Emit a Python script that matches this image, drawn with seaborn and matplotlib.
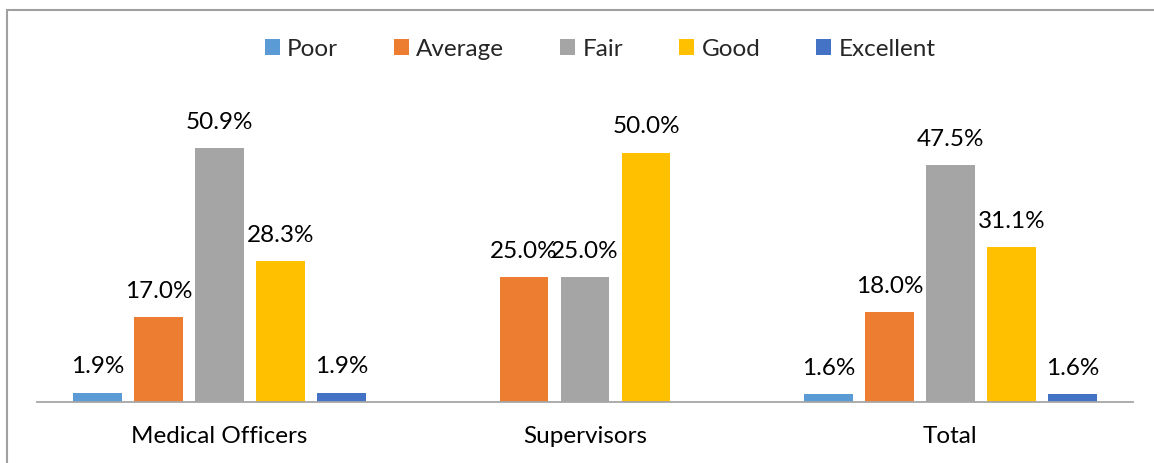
import numpy as np
import pandas as pd
import matplotlib.pyplot as plt
import seaborn as sns
from matplotlib.lines import Line2D

# Data (percent)
groups = ['Medical Officers', 'Supervisors', 'Total']
ratings = ['Poor', 'Average', 'Fair', 'Good', 'Excellent']
poor = [1.9, 0.0, 1.6]
average = [17.0, 25.0, 18.0]
fair = [50.9, 25.0, 47.5]
good = [28.3, 50.0, 31.1]
excellent = [1.9, 0.0, 1.6]
colors = ['#5B9BD5', '#ED7D31', '#A5A5A5', '#FFC000', '#4472C4']

df = pd.DataFrame({'Group': groups, 'Poor': poor, 'Average': average,
                   'Fair': fair, 'Good': good, 'Excellent': excellent})
long = df.melt(id_vars='Group', var_name='Rating', value_name='Pct')

sns.set_style("white")
plt.rcParams['font.family'] = ['Lato', 'DejaVu Sans']
fs = 17.5
plt.rcParams['font.size'] = fs

W, H = 1154, 463
fig = plt.figure(figsize=(W / 100, H / 100), dpi=100)
ax = fig.add_axes([37 / W, 61 / H, (1133 - 37) / W, (402 - 102.6) / H])

sns.barplot(data=long, x='Group', y='Pct', hue='Rating', hue_order=ratings,
            palette=colors, width=0.835, gap=0.2, ax=ax, legend=True,
            saturation=1, linewidth=0)

for cont in ax.containers:
    labels = [f'{v:.1f}%' if v > 0 else '' for v in cont.datavalues]
    ax.bar_label(cont, labels=labels, padding=11, fontsize=fs, color='black')

ax.set_ylim(0, 60)
ax.set_xlim(-0.5, 2.5)
ax.set_xlabel('')
ax.set_ylabel('')
ax.set_yticks([])
ax.tick_params(axis='x', length=0, pad=17, labelsize=fs, colors='black')
for s in ['top', 'left', 'right']:
    ax.spines[s].set_visible(False)
ax.spines['bottom'].set_color('#a6a6a6')
ax.spines['bottom'].set_linewidth(1.3)

handles, labels = ax.get_legend_handles_labels()
ax.get_legend().remove()
fig.legend(handles, labels, loc='center', bbox_to_anchor=(600 / W, 1 - 49 / H),
           ncol=5, frameon=False, fontsize=fs, handlelength=0.62,
           handleheight=0.62, handletextpad=0.3, columnspacing=2.3)

# outer chart border (cropped: only top and left visible)
fig.add_artist(Line2D([7 / W, 1], [1 - 10 / H, 1 - 10 / H], color='#a0a0a0',
                      linewidth=1.5, transform=fig.transFigure))
fig.add_artist(Line2D([7 / W, 7 / W], [0, 1 - 10 / H], color='#a0a0a0',
                      linewidth=1.5, transform=fig.transFigure))

fig.savefig('out.png', dpi=100)
